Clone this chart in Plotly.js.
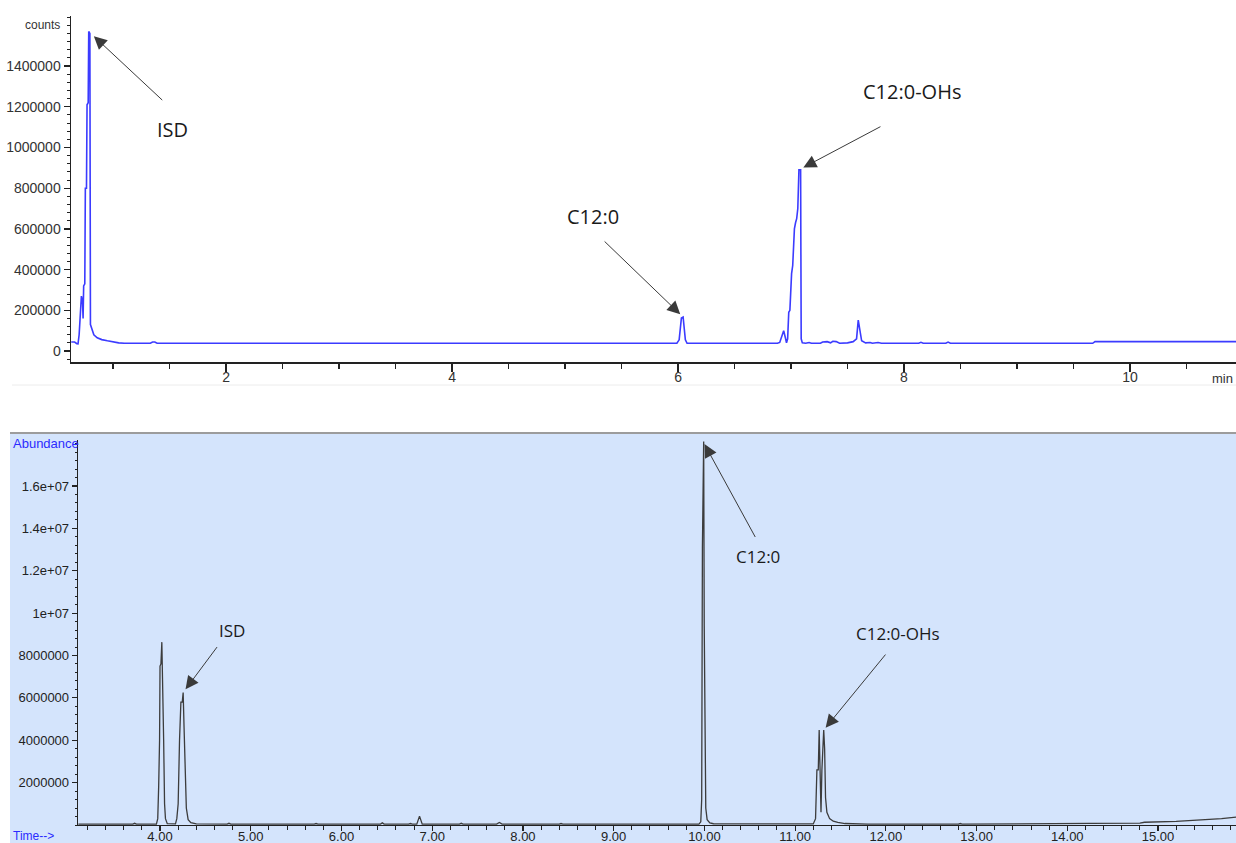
<!DOCTYPE html>
<html>
<head>
<meta charset="utf-8">
<script src="https://cdn.plot.ly/plotly-3.0.1.min.js"></script>
<style>
  html, body { margin: 0; padding: 0; background: #ffffff; overflow: hidden; }
  #chart { width: 1236px; height: 843px; }
</style>
</head>
<body>
<div id="chart"></div>
<script>
// Upper trace: GC run, detector counts vs retention time (min)
const topTime = [
  0.63, 0.66, 0.68, 0.69, 0.70, 0.71, 0.72, 0.73, 0.735, 0.74, 0.75, 0.755, 0.765, 0.77, 0.78,
  0.785, 0.795, 0.80, 0.81, 0.83, 0.86, 0.90, 0.95, 1.00, 1.05, 1.10, 1.33, 1.35, 1.37, 1.39,
  5.99, 6.01, 6.02, 6.03, 6.045, 6.055, 6.065, 6.08,
  6.88, 6.90, 6.92, 6.935, 6.95, 6.96, 6.97, 6.98, 6.99, 7.005, 7.015, 7.03, 7.04, 7.05, 7.06,
  7.07, 7.085, 7.09, 7.10, 7.13, 7.16, 7.18, 7.26, 7.28, 7.32, 7.35, 7.37, 7.40, 7.43, 7.50,
  7.55, 7.58, 7.595, 7.61, 7.625, 7.66, 7.70, 7.72, 7.77, 7.80, 8.13, 8.15, 8.17, 8.37, 8.39,
  8.41, 9.67, 9.69, 10.94
];
const topCounts = [
  44000, 44000, 36000, 35000, 80000, 215000, 270000, 245000, 160000, 320000, 330000, 800000, 800000, 1210000, 1220000,
  1570000, 1560000, 130000, 110000, 80000, 65000, 56000, 50000, 44000, 40000, 38000, 38000, 44000, 44000, 38000,
  38000, 55000, 120000, 162000, 167000, 120000, 55000, 38000,
  38000, 42000, 75000, 100000, 65000, 40000, 60000, 190000, 200000, 380000, 420000, 600000, 630000, 650000, 700000,
  890000, 890000, 60000, 40000, 38000, 42000, 38000, 38000, 44000, 46000, 40000, 48000, 46000, 38000, 40000,
  46000, 60000, 152000, 100000, 50000, 40000, 42000, 38000, 42000, 38000, 38000, 43000, 38000, 38000, 44000,
  38000, 38000, 46000, 46000
];

// Lower trace: GC-MS run, total abundance vs time (min)
const bottomTime = [
  3.10, 3.50, 3.55, 3.57, 3.70, 3.72, 3.74, 3.96, 3.975, 3.985, 3.995, 4.00, 4.01, 4.02, 4.03,
  4.04, 4.05, 4.06, 4.08, 4.17, 4.185, 4.20, 4.215, 4.23, 4.245, 4.255, 4.265, 4.275, 4.29, 4.31,
  4.34, 4.40, 4.74, 4.76, 4.78, 5.70, 5.72, 5.74, 6.43, 6.45, 6.47, 6.74, 6.76, 6.78, 6.83,
  6.86, 6.89, 7.30, 7.32, 7.34, 7.71, 7.74, 7.77, 8.40, 8.42, 8.44, 9.40, 9.42, 9.44,
  9.94, 9.96, 9.97, 9.978, 9.985, 9.992, 9.998, 10.006, 10.015, 10.03, 10.06, 10.10, 10.30,
  11.20, 11.225, 11.24, 11.255, 11.265, 11.275, 11.285, 11.295, 11.305, 11.315, 11.325, 11.335,
  11.35, 11.38, 11.42, 11.47, 11.55, 11.65, 11.80, 12.80, 12.82, 12.84, 13.30, 14.20, 14.25,
  14.80, 14.85, 15.20, 15.50, 15.70, 15.86
];
const bottomAbundance = [
  40000, 40000, 70000, 40000, 40000, 80000, 40000, 40000, 300000, 1800000, 4000000, 7500000, 7600000, 8630000, 6900000,
  4000000, 1000000, 300000, 60000, 50000, 300000, 1000000, 4000000, 5800000, 5800000, 6250000, 4600000, 2500000, 800000, 250000,
  110000, 50000, 40000, 80000, 40000, 40000, 70000, 40000, 40000, 100000, 40000, 40000, 70000, 40000, 40000,
  420000, 40000, 40000, 80000, 40000, 40000, 120000, 40000, 40000, 70000, 40000, 40000, 60000, 40000,
  45000, 150000, 1200000, 13100000, 18100000, 18100000, 9400000, 3000000, 800000, 250000, 100000, 60000, 50000,
  50000, 300000, 2600000, 2600000, 4480000, 3000000, 600000, 2600000, 3900000, 4480000, 3600000, 1300000,
  600000, 300000, 180000, 120000, 70000, 50000, 40000, 40000, 70000, 40000, 40000, 50000, 75000,
  90000, 130000, 170000, 240000, 300000, 370000
];

// Axis tick labels
const topYTicks = [0, 200000, 400000, 600000, 800000, 1000000, 1200000, 1400000];
const topYTickText = ["0", "200000", "400000", "600000", "800000", "1000000", "1200000", "1400000"];
const topXTicks = [2, 4, 6, 8, 10];
const topXTickText = ["2", "4", "6", "8", "10"];
const bottomYTicks = [2000000, 4000000, 6000000, 8000000, 10000000, 12000000, 14000000, 16000000];
const bottomYTickText = ["2000000", "4000000", "6000000", "8000000", "1e+07", "1.2e+07", "1.4e+07", "1.6e+07"];
const bottomXTicks = [4, 5, 6, 7, 8, 9, 10, 11, 12, 13, 14, 15];
const bottomXTickText = ["4.00", "5.00", "6.00", "7.00", "8.00", "9.00", "10.00", "11.00", "12.00", "13.00", "14.00", "15.00"];

// Peak names and the time windows where each one sits
const topPeakNames = ["ISD", "C12:0", "C12:0-OHs"];
const topPeakWindows = [[0.7, 0.9], [5.9, 6.2], [7.0, 7.2]];
const bottomPeakNames = ["ISD", "C12:0", "C12:0-OHs"];
const bottomPeakWindows = [[4.15, 4.4], [9.9, 10.1], [11.3, 11.34]];

// ---- layout helpers (pixel -> paper) ----
const W = 1236, H = 843;
const px = x => x / W;
const py = y => 1 - y / H;

function peakAt(t, v, lo, hi) {
  let best = -1;
  for (let i = 0; i < t.length; i++) {
    if (t[i] >= lo && t[i] <= hi && (best < 0 || v[i] > v[best])) best = i;
  }
  return { x: t[best], y: v[best] };
}

const tickFontTop = { family: "Liberation Sans, Arial, sans-serif", size: 14, color: "#333333" };
const tickFontBottom = { family: "Liberation Sans, Arial, sans-serif", size: 13, color: "#222222" };

const traces = [
  {
    x: topTime, y: topCounts, xaxis: "x", yaxis: "y",
    type: "scatter", mode: "lines",
    line: { color: "#3b3bff", width: 1.6 },
    hoverinfo: "skip"
  },
  {
    x: bottomTime, y: bottomAbundance, xaxis: "x2", yaxis: "y2",
    type: "scatter", mode: "lines",
    line: { color: "#3c3c3c", width: 1.3 },
    hoverinfo: "skip"
  }
];

// Arrow tails, as pixel offsets from the peak apex
const topArrowOffsets = [[75, 70], [-80, -77], [83, -44]];
const topArrowStandoff = [7, 4, 5];
const bottomArrowOffsets = [[35, -47], [53, 97], [63, -77]];
const bottomArrowStandoff = [4, 3, 3];
// Label centres in pixels
const topLabelPos = [[172, 129], [593, 217], [912, 92]];
const bottomLabelPos = [[232, 630], [758, 556], [898, 633]];

const annotations = [];
function addPeakLabels(names, windows, t, v, xr, yr, offsets, standoffs, labelPos, fontSize) {
  names.forEach((name, i) => {
    const p = peakAt(t, v, windows[i][0], windows[i][1]);
    annotations.push({
      x: p.x, y: p.y, xref: xr, yref: yr,
      text: "", showarrow: true,
      ax: offsets[i][0], ay: offsets[i][1],
      arrowhead: 2, arrowsize: 2.6, arrowwidth: 1,
      arrowcolor: "#3a3a3a", standoff: standoffs[i]
    });
    annotations.push({
      x: px(labelPos[i][0]), y: py(labelPos[i][1]), xref: "paper", yref: "paper",
      xanchor: "center", yanchor: "middle", showarrow: false,
      text: name,
      font: { family: "Open Sans, sans-serif", size: fontSize, color: "#1a1a1a" }
    });
  });
}
addPeakLabels(topPeakNames, topPeakWindows, topTime, topCounts, "x", "y",
  topArrowOffsets, topArrowStandoff, topLabelPos, 20);
addPeakLabels(bottomPeakNames, bottomPeakWindows, bottomTime, bottomAbundance, "x2", "y2",
  bottomArrowOffsets, bottomArrowStandoff, bottomLabelPos, 17);

// Axis captions
annotations.push({
  x: px(42), y: py(25), xref: "paper", yref: "paper", xanchor: "center", yanchor: "middle",
  showarrow: false, text: "counts",
  font: { family: "Liberation Sans, Arial, sans-serif", size: 12, color: "#333333" }
});
annotations.push({
  x: px(1222), y: py(378), xref: "paper", yref: "paper", xanchor: "center", yanchor: "middle",
  showarrow: false, text: "min",
  font: { family: "Liberation Sans, Arial, sans-serif", size: 13, color: "#333333" }
});
annotations.push({
  x: px(11), y: py(443), xref: "paper", yref: "paper", xanchor: "left", yanchor: "middle",
  showarrow: false, text: "Abundance",
  font: { family: "Liberation Sans, Arial, sans-serif", size: 13, color: "#2b2bff" }
});
annotations.push({
  x: px(11), y: py(836), xref: "paper", yref: "paper", xanchor: "left", yanchor: "middle",
  showarrow: false, text: "Time-->",
  font: { family: "Liberation Sans, Arial, sans-serif", size: 12, color: "#2b2bff" }
});

const shapes = [
  // pale blue panel behind the lower chromatogram
  { type: "rect", xref: "paper", yref: "paper", x0: px(10), x1: 1, y0: 0, y1: py(433),
    fillcolor: "#d4e4fc", line: { width: 0 }, layer: "below" },
  { type: "line", xref: "paper", yref: "paper", x0: px(10), x1: 1, y0: py(433), y1: py(433),
    line: { color: "#9c9c9c", width: 2 }, layer: "below" },
  { type: "line", xref: "paper", yref: "paper", x0: px(12), x1: 1, y0: py(385), y1: py(385),
    line: { color: "#ececec", width: 1 }, layer: "below" }
];

const layout = {
  width: W, height: H, autosize: false,
  margin: { l: 0, r: 0, t: 0, b: 0, pad: 0 },
  paper_bgcolor: "#ffffff",
  plot_bgcolor: "rgba(0,0,0,0)",
  showlegend: false,
  xaxis: {
    domain: [px(71), 1], anchor: "y",
    range: [0.628, 10.938],
    tickmode: "array", tickvals: topXTicks, ticktext: topXTickText,
    ticks: "outside", ticklen: 8, tickwidth: 1.3, tickcolor: "#222",
    ticklabelstandoff: -6,
    minor: { dtick: 0.5, tick0: 0, ticks: "outside", ticklen: 5, tickwidth: 1.2, tickcolor: "#222" },
    showline: true, linecolor: "#222", linewidth: 1.5,
    showgrid: false, zeroline: false, automargin: false,
    tickfont: tickFontTop, fixedrange: true
  },
  yaxis: {
    domain: [py(362), py(16)], anchor: "x",
    range: [-54000, 1646000],
    tickmode: "array", tickvals: topYTicks, ticktext: topYTickText,
    ticks: "outside", ticklen: 6, tickwidth: 1.3, tickcolor: "#222",
    minor: { dtick: 40000, tick0: 0, ticks: "outside", ticklen: 3, tickwidth: 1, tickcolor: "#222" },
    showline: true, linecolor: "#222", linewidth: 1.5,
    showgrid: false, zeroline: false, automargin: false,
    tickfont: tickFontTop, fixedrange: true
  },
  xaxis2: {
    domain: [px(78), 1], anchor: "y2",
    range: [3.096, 15.859],
    tickmode: "array", tickvals: bottomXTicks, ticktext: bottomXTickText,
    ticks: "outside", ticklen: 5, tickwidth: 1.2, tickcolor: "#222",
    ticklabelstandoff: -6,
    minor: { dtick: 0.2, tick0: 0, ticks: "outside", ticklen: 4, tickwidth: 1, tickcolor: "#222" },
    showline: true, linecolor: "#222", linewidth: 1.3,
    showgrid: false, zeroline: false, automargin: false,
    tickfont: tickFontBottom, fixedrange: true
  },
  yaxis2: {
    domain: [py(825), py(440)], anchor: "x2",
    range: [0, 18170000],
    tickmode: "array", tickvals: bottomYTicks, ticktext: bottomYTickText,
    ticks: "outside", ticklen: 5, tickwidth: 1.2, tickcolor: "#222",
    minor: { dtick: 400000, tick0: 0, ticks: "outside", ticklen: 2, tickwidth: 1, tickcolor: "#222" },
    showline: true, linecolor: "#222", linewidth: 1.3,
    showgrid: false, zeroline: false, automargin: false,
    tickfont: tickFontBottom, fixedrange: true
  },
  shapes: shapes,
  annotations: annotations
};

Plotly.newPlot("chart", traces, layout, { staticPlot: true, displayModeBar: false });
</script>
</body>
</html>
